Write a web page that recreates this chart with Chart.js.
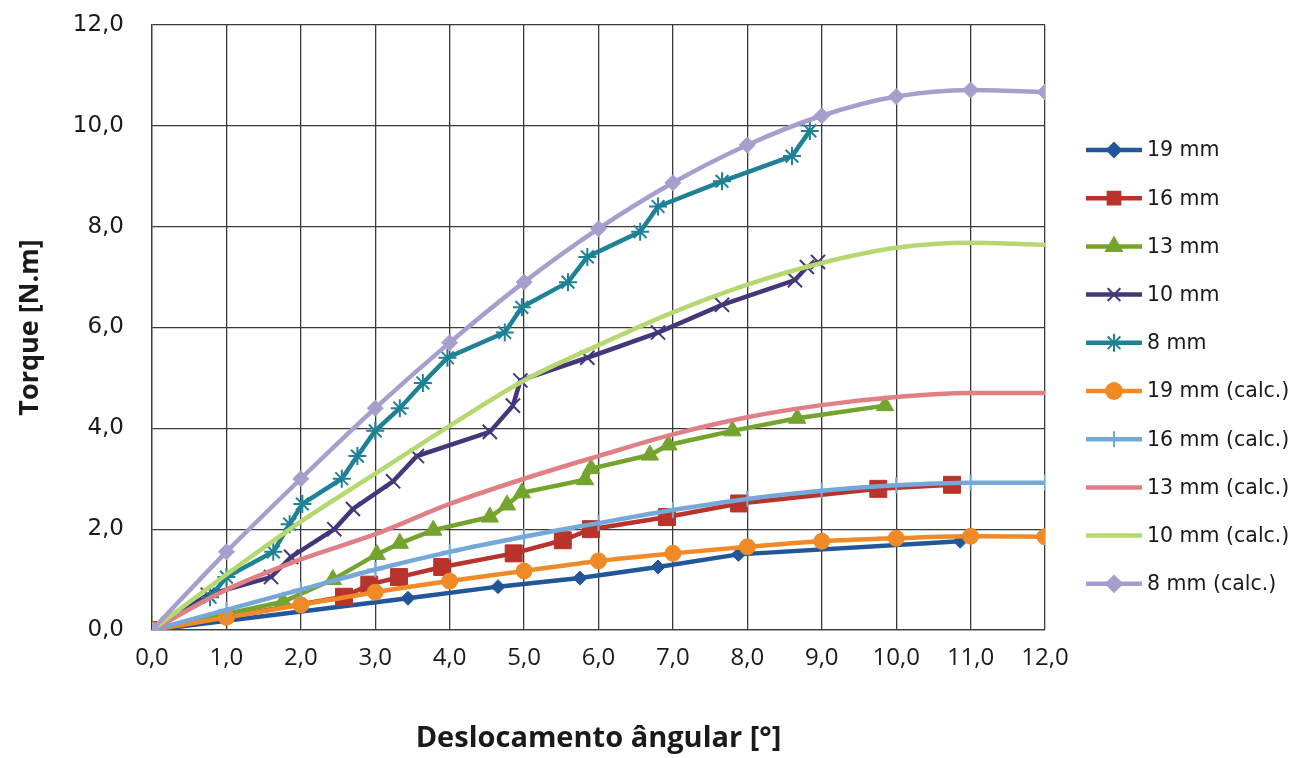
<!DOCTYPE html>
<html>
<head>
<meta charset="utf-8">
<script src="https://cdn.jsdelivr.net/npm/chart.js@4.4.0/dist/chart.umd.min.js"></script>
<style>
  body { margin: 0; background: #fff; }
  canvas { display: block; }
</style>
</head>
<body>
<canvas id="torque" width="1298" height="758"></canvas>
<script>
// measured series (x = deslocamento, y = torque)
const x19 = [0, 3.44, 4.65, 5.75, 6.8, 7.88, 10.86];
const y19 = [0, 0.63, 0.86, 1.03, 1.25, 1.5, 1.76];

const x16 = [0, 2.58, 2.92, 3.32, 3.9, 4.86, 5.52, 5.9, 6.92, 7.89, 9.76, 10.75];
const y16 = [0, 0.66, 0.9, 1.05, 1.25, 1.52, 1.78, 2.0, 2.24, 2.51, 2.8, 2.88];

const x13 = [0, 1.76, 2.43, 3.02, 3.33, 3.78, 4.54, 4.77, 4.97, 5.82, 5.9, 6.69, 6.94, 7.8, 8.67, 9.85];
const y13 = [0, 0.56, 1.0, 1.5, 1.72, 1.98, 2.24, 2.48, 2.72, 2.98, 3.2, 3.47, 3.67, 3.95, 4.2, 4.45];

const x10 = [0, 0.75, 1.6, 1.87, 2.45, 2.7, 3.24, 3.56, 4.54, 4.85, 4.95, 5.85, 6.8, 7.66, 8.64, 8.8, 8.95];
const y10 = [0, 0.7, 1.05, 1.45, 2.0, 2.4, 2.95, 3.45, 3.93, 4.45, 4.95, 5.4, 5.9, 6.45, 6.94, 7.2, 7.3];

const x8 = [0, 0.78, 1.0, 1.63, 1.85, 2.02, 2.55, 2.76, 3.0, 3.33, 3.64, 3.97, 4.74, 4.97, 5.59, 5.85, 6.56, 6.8, 7.66, 8.6, 8.84];
const y8 = [0, 0.65, 1.05, 1.55, 2.1, 2.5, 3.0, 3.45, 3.95, 4.4, 4.9, 5.4, 5.9, 6.4, 6.9, 7.4, 7.9, 8.4, 8.9, 9.4, 9.9];

// calculated series, all on whole degrees
const xCalc = [0, 1, 2, 3, 4, 5, 6, 7, 8, 9, 10, 11, 12];
const y19calc = [0, 0.25, 0.5, 0.75, 0.97, 1.17, 1.37, 1.52, 1.65, 1.76, 1.82, 1.86, 1.85];
const y16calc = [0, 0.4, 0.8, 1.2, 1.55, 1.85, 2.12, 2.38, 2.6, 2.76, 2.87, 2.92, 2.92];
const y13calc = [0, 0.8, 1.4, 1.9, 2.5, 3.0, 3.45, 3.88, 4.22, 4.46, 4.62, 4.7, 4.7];
const y10calc = [0, 1.1, 2.15, 3.1, 4.05, 4.95, 5.65, 6.3, 6.85, 7.28, 7.58, 7.68, 7.64];
const y8calc = [0, 1.55, 3.0, 4.4, 5.7, 6.9, 7.96, 8.87, 9.62, 10.2, 10.58, 10.71, 10.67];

const xTicks = [0, 1, 2, 3, 4, 5, 6, 7, 8, 9, 10, 11, 12];
const yTicks = [0, 2, 4, 6, 8, 10, 12];

const pts = (xs, ys) => xs.map((x, i) => ({ x: x, y: ys[i] }));
const comma = v => v.toFixed(1).replace('.', ',');

const series = [
  { label: '19 mm', data: pts(x19, y19), color: '#22569a', style: 'rectRot', r: 7, calc: false },
  { label: '16 mm', data: pts(x16, y16), color: '#b8332c', style: 'rect', r: 12, calc: false },
  { label: '13 mm', data: pts(x13, y13), color: '#74a32e', style: 'triangle', r: 10, calc: false },
  { label: '10 mm', data: pts(x10, y10), color: '#43377a', style: 'crossRot', r: 10, calc: false },
  { label: '8 mm', data: pts(x8, y8), color: '#1f8196', style: 'star', r: 9, calc: false },
  { label: '19 mm (calc.)', data: pts(xCalc, y19calc), color: '#ef8a27', style: 'circle', r: 8, calc: true },
  { label: '16 mm (calc.)', data: pts(xCalc, y16calc), color: '#74a8d8', style: 'cross', r: 8, calc: true },
  { label: '13 mm (calc.)', data: pts(xCalc, y13calc), color: '#e07f86', style: false, r: 0, calc: true },
  { label: '10 mm (calc.)', data: pts(xCalc, y10calc), color: '#b5d970', style: false, r: 0, calc: true },
  { label: '8 mm (calc.)', data: pts(xCalc, y8calc), color: '#a69fcd', style: 'rectRot', r: 8, calc: true }
];

const datasets = series.map((s, i) => ({
  label: s.label,
  data: s.data,
  borderColor: s.color,
  backgroundColor: s.color,
  borderWidth: 4.5,
  pointStyle: s.style,
  pointRadius: s.r,
  pointBorderWidth: (s.style === 'cross' || s.style === 'crossRot' || s.style === 'star') ? 2 : 1,
  pointBorderColor: s.color,
  pointBackgroundColor: s.color,
  tension: s.calc ? 0.4 : 0,
  cubicInterpolationMode: s.calc ? 'monotone' : 'default',
  order: series.length - i
}));

// legend drawn by hand so the line + marker sample looks like the excel one
const sideLegend = {
  id: 'sideLegend',
  afterDraw(chart) {
    const ctx = chart.ctx;
    ctx.save();
    series.forEach((s, i) => {
      const y = 150 + i * 48.2;
      ctx.strokeStyle = s.color;
      ctx.lineWidth = 4.5;
      ctx.beginPath();
      ctx.moveTo(1086, y);
      ctx.lineTo(1142, y);
      ctx.stroke();
      if (s.style && Chart.helpers && Chart.helpers.drawPoint) {
        ctx.fillStyle = s.color;
        ctx.lineWidth = 2;
        Chart.helpers.drawPoint(ctx, { pointStyle: s.style, radius: Math.min(s.r, 9), rotation: 0, borderWidth: 2 }, 1114, y);
      }
      ctx.fillStyle = '#1a1a1a';
      ctx.font = '20.5px "DejaVu Sans"';
      ctx.textBaseline = 'middle';
      ctx.fillText(s.label, 1147, y + 1);
    });
    ctx.restore();
  }
};

new Chart(document.getElementById('torque'), {
  type: 'line',
  data: { datasets: datasets },
  plugins: [sideLegend],
  options: {
    responsive: false,
    animation: false,
    devicePixelRatio: 1,
    layout: { padding: { left: 0, right: 253, top: 25, bottom: 0 } },
    plugins: { legend: { display: false }, tooltip: { enabled: false } },
    scales: {
      x: {
        type: 'linear',
        min: 0,
        max: 12,
        afterBuildTicks: s => { s.ticks = xTicks.map(v => ({ value: v })); },
        afterFit: s => { s.height = 128; s.paddingTop = 0; s.paddingBottom = 0; s.paddingRight = 0; },
        grid: { color: '#3a3a3a', lineWidth: 1.3, drawTicks: false },
        border: { color: '#3a3a3a', width: 1.3 },
        ticks: {
          padding: 14,
          color: '#1a1a1a',
          font: { family: "'Open Sans', sans-serif", size: 24 },
          callback: v => comma(v)
        },
        title: {
          display: true,
          text: 'Deslocamento ângular [°]',
          color: '#1a1a1a',
          font: { family: "'Open Sans', sans-serif", size: 29, weight: 'bold' },
          padding: { top: 0, bottom: 2 }
        }
      },
      y: {
        min: 0,
        max: 12,
        afterBuildTicks: s => { s.ticks = yTicks.map(v => ({ value: v })); },
        afterFit: s => { s.width = 152; s.paddingTop = 0; s.paddingBottom = 0; },
        grid: { color: '#3a3a3a', lineWidth: 1.3, drawTicks: false },
        border: { color: '#3a3a3a', width: 1.3 },
        ticks: {
          padding: 28,
          color: '#1a1a1a',
          font: { family: "'DejaVu Sans', sans-serif", size: 23 },
          callback: v => comma(v)
        },
        title: {
          display: true,
          text: 'Torque [N.m]',
          color: '#1a1a1a',
          font: { family: "'Open Sans', sans-serif", size: 27, weight: 'bold' },
          padding: { top: 14, bottom: 0 }
        }
      }
    }
  }
});
</script>
</body>
</html>
